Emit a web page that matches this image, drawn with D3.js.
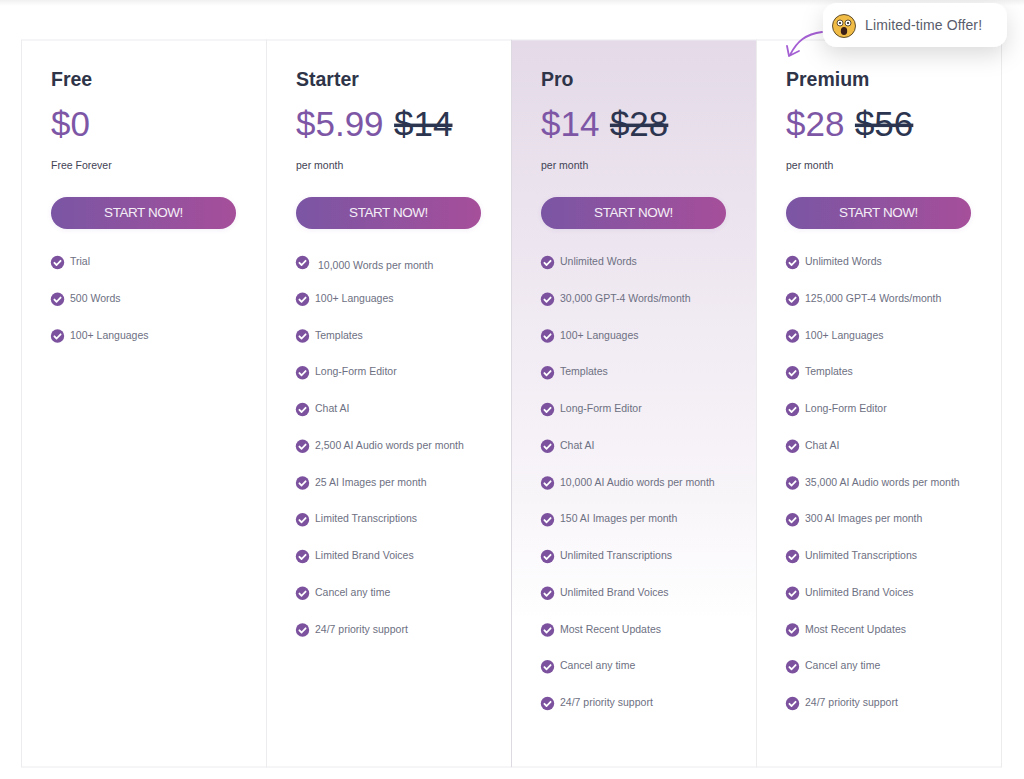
<!DOCTYPE html>
<html><head><meta charset="utf-8">
<script src="https://cdn.jsdelivr.net/npm/d3@7"></script>
<style>html,body{margin:0;padding:0;background:#fff}svg{display:block}text{font-family:"Liberation Sans",Arial,sans-serif}</style>
</head><body><svg id="c" width="1024" height="779"></svg>
<script>
const plans = ["Free","Starter","Pro","Premium"];
const prices = ["$0","$5.99","$14","$28"];
const oldPrices = ["","$14","$28","$56"];
const terms = ["Free Forever","per month","per month","per month"];
const buttonLabel = "START NOW!";
const offerLabel = "Limited-time Offer!";
const freeFeatures = ["Trial","500 Words","100+ Languages"];
const starterFeatures = ["10,000 Words per month","100+ Languages","Templates","Long-Form Editor","Chat AI","2,500 AI Audio words per month","25 AI Images per month","Limited Transcriptions","Limited Brand Voices","Cancel any time","24/7 priority support"];
const proFeatures = ["Unlimited Words","30,000 GPT-4 Words/month","100+ Languages","Templates","Long-Form Editor","Chat AI","10,000 AI Audio words per month","150 AI Images per month","Unlimited Transcriptions","Unlimited Brand Voices","Most Recent Updates","Cancel any time","24/7 priority support"];
const premiumFeatures = ["Unlimited Words","125,000 GPT-4 Words/month","100+ Languages","Templates","Long-Form Editor","Chat AI","35,000 AI Audio words per month","300 AI Images per month","Unlimited Transcriptions","Unlimited Brand Voices","Most Recent Updates","Cancel any time","24/7 priority support"];
const features = [freeFeatures,starterFeatures,proFeatures,premiumFeatures];

const svg = d3.select("#c");
const x = d3.scaleBand().domain(plans).range([21,1001]);
const y = d3.scaleLinear().domain([0,12]).range([262,703]);
const defs = svg.append("defs");

const btnGrad = defs.append("linearGradient").attr("id","btn");
btnGrad.append("stop").attr("offset",0).attr("stop-color","#7a55a4");
btnGrad.append("stop").attr("offset",1).attr("stop-color","#a64f9a");
const proGrad = defs.append("linearGradient").attr("id","pro").attr("x2",0).attr("y2",1);
proGrad.append("stop").attr("offset",0).attr("stop-color","#e4dae8");
proGrad.append("stop").attr("offset",0.22).attr("stop-color","#ebe3ee");
proGrad.append("stop").attr("offset",0.4).attr("stop-color","#f1ebf3");
proGrad.append("stop").attr("offset",0.63).attr("stop-color","#f8f5f9");
proGrad.append("stop").attr("offset",0.8).attr("stop-color","#ffffff");
const topGrad = defs.append("linearGradient").attr("id","topg").attr("x2",0).attr("y2",1);
topGrad.append("stop").attr("offset",0).attr("stop-color","#f0f0f2");
topGrad.append("stop").attr("offset",1).attr("stop-color","#ffffff");
const sh = defs.append("filter").attr("id","sh").attr("x","-20%").attr("y","-60%").attr("width","140%").attr("height","260%");
sh.append("feDropShadow").attr("dx",0).attr("dy",8).attr("stdDeviation",11).attr("flood-color","#000").attr("flood-opacity",0.14);
const bs = defs.append("filter").attr("id","bs").attr("x","-10%").attr("y","-40%").attr("width","120%").attr("height","200%");
bs.append("feDropShadow").attr("dx",0).attr("dy",1).attr("stdDeviation",2).attr("flood-color","#7a55a4").attr("flood-opacity",0.1);

svg.append("rect").attr("width",1024).attr("height",6).attr("fill","url(#topg)");

const cols = svg.selectAll("g.col").data(plans).join("g").attr("class","col")
  .attr("transform",d=>`translate(${x(d)},0)`);
cols.append("rect").attr("x",0.5).attr("y",40).attr("width",x.bandwidth()).attr("height",727)
  .attr("fill",d=>d==="Pro"?"url(#pro)":"#fff").attr("stroke","#ececef");
cols.filter(d=>d==="Pro").append("line").attr("x1",0.5).attr("x2",0.5).attr("y1",40).attr("y2",767).attr("stroke","#dddbe1");
const inner = cols.append("g").attr("transform","translate(30,0)");
inner.append("text").attr("y",85.5).attr("font-size",19.5).attr("font-weight",700).attr("fill","#2f3549").text(d=>d);
const priceText = inner.append("text").attr("y",136).attr("font-size",35);
priceText.append("tspan").attr("fill","#7d57a6").text((d,i)=>prices[i]);
priceText.append("tspan").attr("dx",10.5).attr("fill","#2c3550").attr("text-decoration","line-through").text((d,i)=>oldPrices[i]);
inner.append("text").attr("y",169).attr("font-size",10.5).attr("fill","#3f4354").text((d,i)=>terms[i]);
inner.append("rect").attr("y",197).attr("width",185).attr("height",32).attr("rx",16)
  .attr("fill","url(#btn)").attr("filter","url(#bs)");
inner.append("text").attr("x",92.5).attr("y",217).attr("text-anchor","middle").attr("font-size",13.5)
  .attr("letter-spacing",-0.45).attr("fill","#f4eef6").text(buttonLabel);

inner.each(function(d,pi){
  const rows = d3.select(this).selectAll("g.row").data(features[pi]).join("g").attr("class","row")
    .attr("transform",(f,i)=>`translate(0,${y(i)})`);
  rows.append("circle").attr("cx",6.5).attr("cy",0.5).attr("r",6.7).attr("fill","#7c529f");
  rows.append("path").attr("d","M3.4 0.8 L5.6 3 L9.6 -1.2").attr("fill","none").attr("stroke","#fff")
    .attr("stroke-width",1.8).attr("stroke-linecap","round").attr("stroke-linejoin","round");
  rows.append("text")
    .attr("x",(f,i)=>(pi===1&&i===0)?22:19)
    .attr("y",(f,i)=>(pi===1&&i===0)?7:3)
    .attr("font-size",10.5).attr("fill","#6d7082").text(f=>f);
});

// callout
svg.append("path").attr("d","M822 32 C806 34 797 41 790 55").attr("fill","none").attr("stroke","#a45fd3").attr("stroke-width",1.8).attr("stroke-linecap","round");
svg.append("path").attr("d","M787 46 L789 56 L799 51").attr("fill","none").attr("stroke","#a45fd3").attr("stroke-width",1.8).attr("stroke-linecap","round").attr("stroke-linejoin","round");
svg.append("rect").attr("x",823).attr("y",3).attr("width",184).attr("height",44).attr("rx",14).attr("fill","#fff").attr("filter","url(#sh)");
const em = svg.append("g").attr("transform","translate(844,26)");
em.append("circle").attr("r",11.5).attr("fill","#f0bc45").attr("stroke","#3a2c16").attr("stroke-width",0.8);
em.append("circle").attr("cx",-4).attr("cy",-3).attr("r",3).attr("fill","#fff").attr("stroke","#3a2c16").attr("stroke-width",0.8);
em.append("circle").attr("cx",4).attr("cy",-3).attr("r",3).attr("fill","#fff").attr("stroke","#3a2c16").attr("stroke-width",0.8);
em.append("circle").attr("cx",-4).attr("cy",-3).attr("r",1.1).attr("fill","#222");
em.append("circle").attr("cx",4).attr("cy",-3).attr("r",1.1).attr("fill","#222");
em.append("ellipse").attr("cx",0).attr("cy",5).attr("rx",3.2).attr("ry",4).attr("fill","#3a2018");
svg.append("text").attr("x",865).attr("y",30).attr("font-size",14).attr("letter-spacing",0.12).attr("fill","#5a5d6c").text(offerLabel);
</script></body></html>
